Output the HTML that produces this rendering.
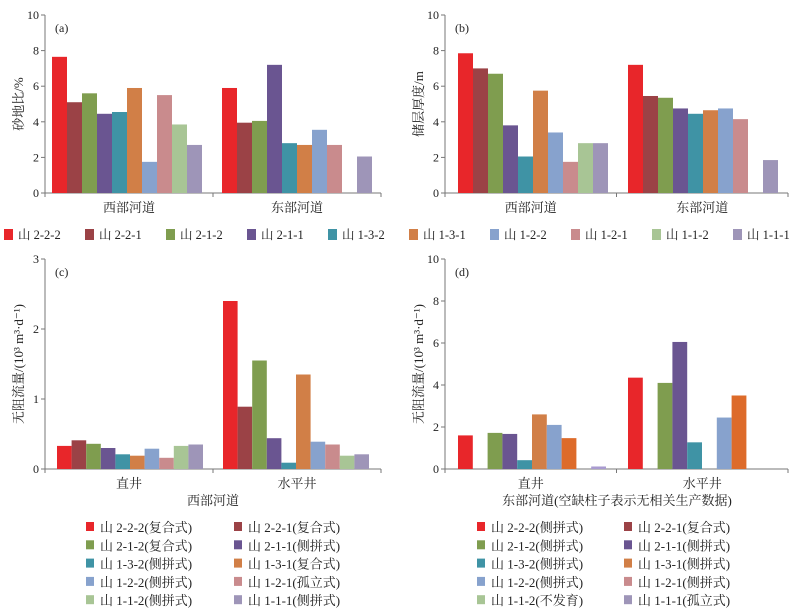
<!DOCTYPE html>
<html><head><meta charset="utf-8"><style>
body{margin:0;background:#fff;}
svg{display:block;font-family:"Liberation Serif","Noto Serif CJK SC","Noto Sans CJK SC",serif;}
</style></head><body>
<svg id="chart" width="797" height="616" viewBox="0 0 797 616"></svg>
<script>
const colors=['#e8262a','#9b4246','#7f9d4f','#6a5591','#3f93a5','#d17f47','#87a2cd','#c98b8d','#a8c595','#9e95b8'];
const seriesNames=['山 2-2-2','山 2-2-1','山 2-1-2','山 2-1-1','山 1-3-2','山 1-3-1','山 1-2-2','山 1-2-1','山 1-1-2','山 1-1-1'];
const catsAB=['西部河道','东部河道'];
const catsCD=['直井','水平井'];
const aWest=[7.65,5.1,5.6,4.45,4.55,5.9,1.75,5.5,3.85,2.7];
const aEast=[5.9,3.95,4.05,7.2,2.8,2.7,3.55,2.7,null,2.05];
const bWest=[7.85,7.0,6.7,3.8,2.05,5.75,3.4,1.75,2.8,2.8];
const bEast=[7.2,5.45,5.35,4.75,4.45,4.65,4.75,4.15,null,1.85];
const cVert=[0.33,0.41,0.36,0.30,0.21,0.19,0.29,0.16,0.33,0.35];
const cHoriz=[2.4,0.89,1.55,0.44,0.09,1.35,0.39,0.35,0.19,0.21];
const dVert=[1.6,null,1.72,1.67,0.42,2.6,2.1,1.47,null,0.12];
const dHoriz=[4.35,null,4.1,6.05,1.27,null,2.45,3.5,null,null];
const dColors=['#e8262a','#9b4246','#7f9d4f','#6a5591','#3f93a5','#d17f47','#87a2cd','#dd6b2a','#a8c595','#a99bd0'];
const ticksA=[0,2,4,6,8,10];
const ticksC=[0,1,2,3];
const legendC=['山 2-2-2(复合式)','山 2-2-1(复合式)','山 2-1-2(复合式)','山 2-1-1(侧拼式)','山 1-3-2(侧拼式)','山 1-3-1(复合式)','山 1-2-2(侧拼式)','山 1-2-1(孤立式)','山 1-1-2(侧拼式)','山 1-1-1(侧拼式)'];
const legendD=['山 2-2-2(侧拼式)','山 2-2-1(复合式)','山 2-1-2(侧拼式)','山 2-1-1(侧拼式)','山 1-3-2(侧拼式)','山 1-3-1(侧拼式)','山 1-2-2(侧拼式)','山 1-2-1(侧拼式)','山 1-1-2(不发育)','山 1-1-1(孤立式)'];

const svg=document.getElementById('chart');
const NS='http://www.w3.org/2000/svg';
function mk(tag,attrs,text){const e=document.createElementNS(NS,tag);for(const k in attrs)e.setAttribute(k,attrs[k]);if(text!==undefined)e.textContent=text;svg.appendChild(e);return e;}

function panel(o){
  const y=v=>o.y0-(v/o.max)*(o.y0-o.yTop);
  let e;
  e=mk('line',{x1:o.x0,y1:o.yTop,x2:o.x0,y2:o.y0,stroke:'#777','stroke-width':1});
  
  
  e=mk('line',{x1:o.x0,y1:o.y0,x2:o.xEnd,y2:o.y0,stroke:'#777','stroke-width':1});
  
  
  const mid=(o.x0+o.xEnd)/2;
  [o.x0,mid,o.xEnd].forEach(tx=>{mk('line',{x1:tx,y1:o.y0,x2:tx,y2:o.y0+4,stroke:'#777'});});
  o.ticks.forEach(t=>{
    mk('line',{x1:o.x0-4,y1:y(t),x2:o.x0,y2:y(t),stroke:'#777'});
    e=mk('text',{x:o.x0-6,y:y(t)+4,'text-anchor':'end','font-size':12,fill:'#222'},t);
    
    
  });
  e=mk('text',{x:o.x0+10,y:o.yTop+17,'font-size':12,fill:'#222'},o.tag);
  
  
  e=mk('text',{x:0,y:0,'font-size':13,fill:'#222','text-anchor':'middle',transform:`translate(${o.x0-26},${(o.yTop+o.y0)/2}) rotate(-90)`,dy:4},o.ylabel);
  
  
  o.groups.forEach((vals,gi)=>{
    const gx=o.starts[gi];
    vals.forEach((v,i)=>{
      if(v===null)return;
      const r=mk('rect',{x:gx+i*o.bw,y:y(v),width:o.bw,height:o.y0-y(v),fill:o.colors[i]});
      
      
    });
    e=mk('text',{x:(gi===0?(o.x0+mid)/2:(mid+o.xEnd)/2),y:o.y0+19,'text-anchor':'middle','font-size':13,fill:'#222'},o.cats[gi]);
    
    
  });
}
panel({id:'a',tag:'(a)',x0:45,xEnd:381,yTop:15,y0:193,max:10,ticks:ticksA,ylabel:'砂地比/%',groups:[aWest,aEast],starts:[52,222],bw:15,colors:colors,cats:catsAB});
panel({id:'b',tag:'(b)',x0:445,xEnd:788,yTop:15,y0:193,max:10,ticks:ticksA,ylabel:'储层厚度/m',groups:[bWest,bEast],starts:[458,628],bw:15,colors:colors,cats:catsAB});
panel({id:'c',tag:'(c)',x0:45,xEnd:381,yTop:259,y0:469,max:3,ticks:ticksC,ylabel:'无阻流量/(10³ m³·d⁻¹)',groups:[cVert,cHoriz],starts:[57,223],bw:14.6,colors:colors,cats:catsCD});
panel({id:'d',tag:'(d)',x0:445,xEnd:788,yTop:259,y0:469,max:10,ticks:ticksA,ylabel:'无阻流量/(10³ m³·d⁻¹)',groups:[dVert,dHoriz],starts:[458,628],bw:14.8,colors:dColors,cats:catsCD});

let t=mk('text',{x:213,y:505,'text-anchor':'middle','font-size':13,fill:'#222'},'西部河道');


t=mk('text',{x:617,y:505,'text-anchor':'middle','font-size':13,fill:'#222'},'东部河道(空缺柱子表示无相关生产数据)');



seriesNames.forEach((n,i)=>{
  const x=4+i*81;
  const r=mk('rect',{x:x,y:229,width:9,height:11,fill:colors[i]});
  
  
  const tx=mk('text',{x:x+14,y:239,'font-size':12.5,fill:'#222'},n);
  
  
});
function legend2(list,xs,id){
  list.forEach((n,i)=>{
    const col=i%2,row=Math.floor(i/2);
    const x=xs[col],yy=528+row*18.3;
    const r=mk('rect',{x:x,y:yy-6,width:8,height:9,fill:colors[i]});
    
    
    const tx=mk('text',{x:x+14,y:yy+4,'font-size':13,fill:'#222'},n);
    
    
  });
}
legend2(legendC,[86,234],'c');
legend2(legendD,[477,624],'d');
</script>
</body></html>
